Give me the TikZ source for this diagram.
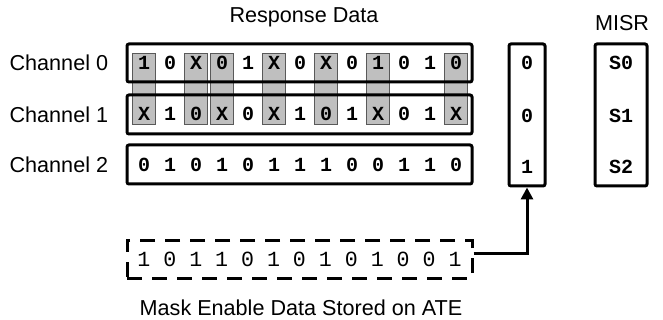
\documentclass[tikz,border=0pt]{standalone}
\usepackage{fontspec}
\setmainfont{Liberation Sans}
\setmonofont{Liberation Mono}
\usetikzlibrary{arrows.meta}

\tikzset{
  regbox/.style={draw,line width=1.5pt,rounded corners=1pt,inner sep=0pt},
  bit/.style={font=\ttfamily\bfseries\fontsize{10}{12}\selectfont,inner sep=0pt},
  lbl/.style={font=\fontsize{10.8}{13}\selectfont,inner sep=0pt},
  maskcol/.style={fill=black!25,draw=black!65,line width=0.4pt}
}

\begin{document}
\begin{tikzpicture}[x=0.5pt,y=-0.5pt]
\useasboundingbox (0,0) rectangle (663,320);
% masked columns (X in either channel)
\foreach \c in {1,3,4,6,8,10,13}
  \draw[maskcol] ({144+26*(\c-1)-11.5},53) rectangle ({144+26*(\c-1)+11.5},124);
% scan channels
\node[regbox,minimum width=172.5pt,minimum height=19pt] (ch0) at (299.5,63) {};
\node[regbox,minimum width=172.5pt,minimum height=19.5pt] (ch1) at (299.5,114.5) {};
\node[regbox,minimum width=172.5pt,minimum height=19.5pt] (ch2) at (299.5,164.5) {};
\node[lbl,left=8.5pt] (lab0) at (ch0.west) {Channel 0};
\node[lbl,left=8.5pt] (lab1) at (ch1.west) {Channel 1};
\node[lbl,left=8.5pt] (lab2) at (ch2.west) {Channel 2};
\foreach \b [count=\i] in {1,0,X,0,1,X,0,X,0,1,0,1,0}
  \node[bit] (a\i) at ({144+26*(\i-1)},63) {\b};
\foreach \b [count=\i] in {X,1,0,X,0,X,1,0,1,X,0,1,X}
  \node[bit] (b\i) at ({144+26*(\i-1)},114) {\b};
\foreach \b [count=\i] in {0,1,0,1,0,1,1,1,0,0,1,1,0}
  \node[bit] (c\i) at ({144+26*(\i-1)},164.5) {\b};
\node[lbl] (resp) at (304,17) {Response Data};
% mask bits and MISR
\node[regbox,minimum width=18pt,minimum height=71pt] (sel) at (527,115) {};
\node[bit] (sel0) at (527,63) {0};
\node[bit] (sel1) at (527,116) {0};
\node[bit] (sel2) at (527,167) {1};
\node[regbox,minimum width=26pt,minimum height=71pt] (misr) at (621,115) {};
\node[bit] (s0) at (621,63) {S0};
\node[bit] (s1) at (621,116) {S1};
\node[bit] (s2) at (621,167) {S2};
\node[lbl] (misrlab) at (622,23) {MISR};
% mask data on ATE
\node[draw,line width=1.5pt,dash pattern=on 7.5pt off 5pt,inner sep=0pt,
      minimum width=172.5pt,minimum height=19pt,
      font=\ttfamily\fontsize{10.8}{13}\selectfont] (mask) at (299.5,259)
  {1 0 1 1 0 1 0 1 0 1 0 0 1};
\node[lbl] (masklab) at (301,308) {Mask Enable Data Stored on ATE};
\draw[line width=1.5pt,-{Triangle[length=6pt,width=6pt]}] ([yshift=3pt]mask.east) -| (sel.south);
\end{tikzpicture}
\end{document}
